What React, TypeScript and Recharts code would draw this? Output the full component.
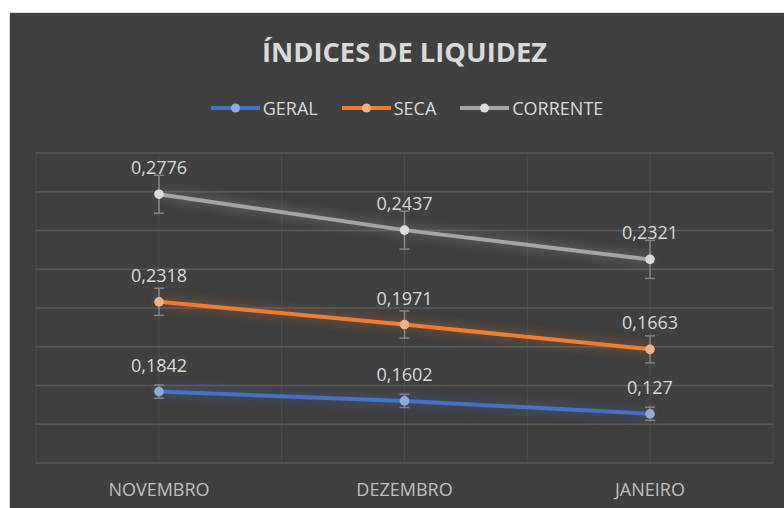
import React from 'react';
import { LineChart, Line, XAxis, YAxis, CartesianGrid, Legend, ErrorBar, LabelList } from 'recharts';

const meses = ['NOVEMBRO', 'DEZEMBRO', 'JANEIRO'];
const geral = [0.1842, 0.1602, 0.127];
const seca = [0.2318, 0.1971, 0.1663];
const corrente = [0.2776, 0.2437, 0.2321];
const geralErro = [0.017, 0.017, 0.017];
const secaErro = [0.035, 0.035, 0.035];
const correnteErro = [0.049, 0.049, 0.049];
const yTicks = [0, 0.1, 0.2, 0.3, 0.4, 0.5, 0.6, 0.7, 0.8];
// vertical gridlines at every half category (fractions of the plot width)
const gridFractions = [0, 1 / 6, 2 / 6, 3 / 6, 4 / 6, 5 / 6, 1];
const titulo = 'ÍNDICES DE LIQUIDEZ';

const FONT = '"Open Sans", sans-serif';

// stacked line table (Excel "stacked line" chart)
const data = meses.map((mes, i) => {
  const g = geral[i];
  const s = g + seca[i];
  const c = s + corrente[i];
  return {
    mes,
    geral: geral[i],
    seca: seca[i],
    corrente: corrente[i],
    geralAcum: g,
    secaAcum: s,
    correnteAcum: c,
    geralErro: geralErro[i],
    secaErro: secaErro[i],
    correnteErro: correnteErro[i],
  };
});

const series = [
  { name: 'GERAL', key: 'geral', color: '#4472c4', light: '#8faadc', glow: 'rgba(68,114,196,0.55)' },
  { name: 'SECA', key: 'seca', color: '#ed7d31', light: '#f4b183', glow: 'rgba(237,125,49,0.5)' },
  { name: 'CORRENTE', key: 'corrente', color: '#a5a5a5', light: '#dbdbdb', glow: 'rgba(200,200,200,0.45)' },
];

const fmt = (v: any) => String(v).replace('.', ',');

const renderLabel = (props: any) => {
  const { x, y, value } = props;
  if (x == null || y == null) return null;
  return (
    <text x={x} y={y - 20} textAnchor="middle" fill="#d9d9d9" fontSize={18} fontFamily={FONT}>
      {fmt(value)}
    </text>
  );
};

const renderTick = (props: any) => {
  const { x, y, payload } = props;
  return (
    <text x={x} y={y + 33} textAnchor="middle" fill="#bfbfbf" fontSize={18} fontFamily={FONT}>
      {payload.value}
    </text>
  );
};

const renderLegend = () => (
  <div
    style={{
      height: 24,
      display: 'flex',
      justifyContent: 'center',
      alignItems: 'center',
      fontFamily: FONT,
      fontSize: 18,
      color: '#d9d9d9',
      paddingLeft: 5,
    }}
  >
    {series.map((s, i) => (
      <div key={s.key} style={{ display: 'flex', alignItems: 'center', marginLeft: i === 0 ? 0 : 24 }}>
        <svg width={49} height={12} style={{ display: 'block' }}>
          <line x1={0} y1={6} x2={49} y2={6} stroke={s.color} strokeWidth={4} />
          <circle cx={24.5} cy={6} r={4.5} fill={s.light} />
        </svg>
        <span style={{ marginLeft: 3, lineHeight: '24px' }}>{s.name}</span>
      </div>
    ))}
  </div>
);

export default function App() {
  return (
    <div>
      <style>{`
        body { margin: 0; overflow: hidden; }
        ${series
          .map(
            (s) => `.glow-${s.key} .recharts-line-curve { filter: drop-shadow(0 0 6px ${s.glow}); }
        .glow-${s.key} .recharts-line-dots circle { filter: drop-shadow(0 0 5px ${s.glow}); }`
          )
          .join('\n')}
      `}</style>
      <div
        style={{
          position: 'absolute',
          left: 9,
          top: 12,
          width: 800,
          height: 520,
          border: '1px solid #d9d9d9',
          background: '#404040',
        }}
      >
        <div style={{ position: 'relative', width: 774, height: 495 }}>
          <svg
            width={774}
            height={80}
            style={{ position: 'absolute', left: 0, top: 0, pointerEvents: 'none' }}
          >
            <text
              x={394.5}
              y={49}
              textAnchor="middle"
              fill="#d9d9d9"
              fontSize={27.3}
              fontWeight={700}
              fontFamily={FONT}
            >
              {titulo}
            </text>
          </svg>
          <LineChart
            width={774}
            height={495}
            data={data}
            margin={{ top: 116, right: 11, bottom: 11, left: 26 }}
          >
            <YAxis domain={[0, 0.8]} ticks={yTicks} interval={0} hide />
            <CartesianGrid
              horizontal={false}
              stroke="#4d4d4d"
              strokeWidth={1}
              verticalCoordinatesGenerator={({ offset }: any) =>
                gridFractions.map((f) => offset.left + f * offset.width)
              }
            />
            <CartesianGrid vertical={false} stroke="#5a5a5a" strokeWidth={1.3} />
            <XAxis
              dataKey="mes"
              padding={{ left: 123, right: 123 }}
              axisLine={false}
              tickLine={false}
              tickSize={0}
              tickMargin={0}
              height={34}
              tick={renderTick}
              interval={0}
            />
            <Legend
              verticalAlign="top"
              align="center"
              content={renderLegend}
              wrapperStyle={{ top: 83 }}
            />
            {series.map((s) => (
              <Line
                key={s.key}
                className={`glow-${s.key}`}
                name={s.name}
                dataKey={`${s.key}Acum`}
                stroke={s.color}
                strokeWidth={4}
                dot={{ r: 4.8, fill: s.light, stroke: s.light, strokeWidth: 0 }}
                activeDot={false}
                isAnimationActive={false}
              >
                <ErrorBar dataKey={`${s.key}Erro`} direction="y" width={5} stroke="#858585" strokeWidth={1.5} />
                <LabelList dataKey={s.key} content={renderLabel} />
              </Line>
            ))}
          </LineChart>
        </div>
      </div>
    </div>
  );
}
